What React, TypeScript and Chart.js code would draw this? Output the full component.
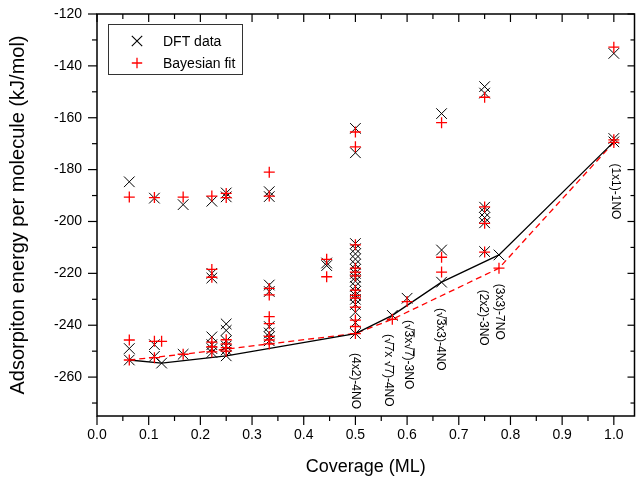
import React, { useEffect, useRef } from "react";
import { Chart, registerables } from "chart.js";

Chart.register(...registerables);

// ---------- data ----------
const coverages = [0.0625, 0.1111, 0.125, 0.1667, 0.2222, 0.25, 0.3333, 0.4444, 0.5, 0.5714, 0.6, 0.6667, 0.75, 0.7778, 1.0];

const dftEnergies: number[][] = [
  [-184.7, -249, -253.4],
  [-191, -247.5, -252],
  [-254.6],
  [-193.5, -251.2],
  [-192.2, -220, -221.8, -244.5, -247.5, -249, -250.5],
  [-189, -190.5, -239.5, -242, -246, -248, -249.5, -251.8],
  [-188.5, -190.4, -224.5, -227, -240.5, -243, -244.5, -246],
  [-216, -217],
  [-164.1, -173.5, -208.5, -210.5, -212.5, -214.5, -216.5, -218.5, -220, -221.5, -223, -225, -227, -228.5, -230, -232, -235, -239, -243.2],
  [-236.2],
  [-229.6],
  [-158.4, -211, -223.4],
  [-148, -150.5, -194.5, -196.5, -198.5, -200.5, -211.6],
  [-212.9],
  [-135.2, -168, -169.3],
];

const fitEnergies: number[][] = [
  [-190.6, -245.7, -253.4],
  [-190.8, -246.2, -252.5],
  [-246.2],
  [-190.6, -251.2],
  [-190.2, -218.5, -221.5, -246.5, -248.3, -250.3],
  [-189.2, -190.8, -245.6, -247.2, -248.6, -250],
  [-181, -190.2, -225.8, -228.3, -236.7, -239.4, -244.3, -245.7, -247.2],
  [-214.6, -221.3],
  [-165.5, -171.2, -209, -218, -219.5, -221, -226.5, -228.5, -229.5, -233, -238, -240.5, -243.2],
  [-237.7],
  [-230.9],
  [-161.9, -213.8, -219.5],
  [-152.1, -194.4, -200.7, -211.8],
  [-218],
  [-132.8, -168.5, -169.5],
];

const dftHullCoverage = [0.0625, 0.125, 0.25, 0.5, 0.5714, 0.6667, 0.7778, 1.0];
const dftHullEnergy = [-253.4, -254.6, -251.8, -243.2, -236.2, -223.4, -212.9, -169.3];

const fitHullCoverage = [0.0625, 0.1667, 0.5, 0.5714, 0.7778, 1.0];
const fitHullEnergy = [-253.4, -251.2, -243.2, -237.7, -218, -169.5];

const xTickValues = [0, 0.1, 0.2, 0.3, 0.4, 0.5, 0.6, 0.7, 0.8, 0.9, 1.0];
const xMinorTickValues = [0.05, 0.15, 0.25, 0.35, 0.45, 0.55, 0.65, 0.75, 0.85, 0.95];
const yTickValues = [-260, -240, -220, -200, -180, -160, -140, -120];
const yMinorTickValues = [-270, -250, -230, -210, -190, -170, -150, -130];

const phaseLabels = ["(4x2)-4NO", "(√7x √7)-4NO", "(√3x√7)-3NO", "(√3x3)-4NO", "(2x2)-3NO", "(3x3)-7NO", "(1x1)-1NO"];
const phaseLabelCoverage = [0.5, 0.563, 0.603, 0.665, 0.747, 0.778, 1.003];
const phaseLabelTop = [-250.7, -243.4, -238.0, -233.4, -226.3, -224.0, -177.6];

const legendLabels = ["DFT data", "Bayesian fit"];

const FONT = "'Liberation Sans', Arial, sans-serif";

// ---------- plugins ----------
const frameTicks = {
  id: "frameTicks",
  afterDraw(chart: any) {
    const { ctx, chartArea: a, scales } = chart;
    const x = scales.x;
    const y = scales.y;
    ctx.save();
    ctx.strokeStyle = "#000";
    ctx.lineWidth = 1.5;
    ctx.strokeRect(a.left, a.top, a.right - a.left, a.bottom - a.top);
    ctx.lineWidth = 1.2;
    const seg = (x1: number, y1: number, x2: number, y2: number) => {
      ctx.beginPath();
      ctx.moveTo(x1, y1);
      ctx.lineTo(x2, y2);
      ctx.stroke();
    };
    const xt = (v: number, outLen: number, inLen: number) => {
      const px = x.getPixelForValue(v);
      seg(px, a.bottom, px, a.bottom + outLen);
      seg(px, a.top, px, a.top + inLen);
    };
    const yt = (v: number, outLen: number, inLen: number) => {
      const py = y.getPixelForValue(v);
      seg(a.left, py, a.left - outLen, py);
      seg(a.right, py, a.right - inLen, py);
    };
    xTickValues.forEach((v) => xt(v, 9, 8));
    xMinorTickValues.forEach((v) => xt(v, 5, 5));
    yTickValues.forEach((v) => yt(v, 9, 7));
    yMinorTickValues.forEach((v) => yt(v, 5, 4));
    ctx.restore();
  },
};

function drawRotatedLabel(ctx: CanvasRenderingContext2D, text: string, px: number, py: number, size: number) {
  ctx.save();
  ctx.translate(px, py);
  ctx.rotate(Math.PI / 2);
  ctx.font = `${size}px ${FONT}`;
  ctx.fillStyle = "#000";
  ctx.strokeStyle = "#000";
  ctx.lineWidth = 0.9;
  ctx.textAlign = "left";
  ctx.textBaseline = "middle";
  let cx = 0;
  let barStart: number | null = null;
  for (const ch of text) {
    const w = ctx.measureText(ch).width;
    ctx.fillText(ch, cx, 0);
    if (ch === "√") {
      barStart = cx + w * 0.75;
    } else if (barStart !== null) {
      ctx.beginPath();
      ctx.moveTo(barStart, -size * 0.46);
      ctx.lineTo(cx + w, -size * 0.46);
      ctx.stroke();
      barStart = null;
    }
    cx += w;
  }
  ctx.restore();
}

const phaseLabelPlugin = {
  id: "phaseLabels",
  afterDatasetsDraw(chart: any) {
    const { ctx, scales } = chart;
    phaseLabels.forEach((t, i) => {
      const px = scales.x.getPixelForValue(phaseLabelCoverage[i]);
      const py = scales.y.getPixelForValue(phaseLabelTop[i]);
      drawRotatedLabel(ctx, t, px, py, 12);
    });
  },
};

const boxLegend = {
  id: "boxLegend",
  afterDraw(chart: any) {
    const { ctx, chartArea: a } = chart;
    const left = a.left + 11;
    const top = a.top + 10;
    ctx.save();
    ctx.fillStyle = "#fff";
    ctx.fillRect(left, top, 134, 50);
    ctx.strokeStyle = "#333";
    ctx.lineWidth = 1;
    ctx.strokeRect(left + 0.5, top + 0.5, 134, 50);
    const rows = [top + 17, top + 39];
    const mx = left + 29;
    ctx.strokeStyle = "#000";
    ctx.lineWidth = 1.1;
    const r = 5.2;
    ctx.beginPath();
    ctx.moveTo(mx - r, rows[0] - r);
    ctx.lineTo(mx + r, rows[0] + r);
    ctx.moveTo(mx + r, rows[0] - r);
    ctx.lineTo(mx - r, rows[0] + r);
    ctx.stroke();
    ctx.strokeStyle = "#ff0000";
    ctx.lineWidth = 1.3;
    ctx.beginPath();
    ctx.moveTo(mx - r, rows[1]);
    ctx.lineTo(mx + r, rows[1]);
    ctx.moveTo(mx, rows[1] - r);
    ctx.lineTo(mx, rows[1] + r);
    ctx.stroke();
    ctx.fillStyle = "#000";
    ctx.font = `14px ${FONT}`;
    ctx.textAlign = "left";
    ctx.textBaseline = "middle";
    legendLabels.forEach((t, i) => ctx.fillText(t, left + 55, rows[i] + 1));
    ctx.restore();
  },
};

// ---------- component ----------
export default function App() {
  const canvasRef = useRef<HTMLCanvasElement | null>(null);

  useEffect(() => {
    document.body.style.margin = "0";
    const canvas = canvasRef.current;
    if (!canvas) return;

    const dftPoints = coverages.flatMap((c, i) => dftEnergies[i].map((e) => ({ x: c, y: e })));
    const fitPoints = coverages.flatMap((c, i) => fitEnergies[i].map((e) => ({ x: c, y: e })));
    const dftHull = dftHullCoverage.map((c, i) => ({ x: c, y: dftHullEnergy[i] }));
    const fitHull = fitHullCoverage.map((c, i) => ({ x: c, y: fitHullEnergy[i] }));

    const chart = new Chart(canvas, {
      type: "scatter",
      data: {
        datasets: [
          {
            label: legendLabels[1],
            data: fitPoints,
            pointStyle: "cross",
            pointRadius: 5.5,
            borderColor: "#ff0000",
            backgroundColor: "#ff0000",
            borderWidth: 1.3,
            showLine: false,
            order: 0,
          } as any,
          {
            label: legendLabels[0],
            data: dftPoints,
            pointStyle: "crossRot",
            pointRadius: 7.5,
            borderColor: "#000",
            backgroundColor: "#000",
            borderWidth: 1,
            showLine: false,
            order: 1,
          } as any,
          {
            label: "DFT hull",
            data: dftHull,
            showLine: true,
            borderColor: "#000",
            borderWidth: 1.3,
            pointRadius: 0,
            fill: false,
            order: 2,
          } as any,
          {
            label: "Fit hull",
            data: fitHull,
            showLine: true,
            borderColor: "#ff0000",
            borderWidth: 1.3,
            borderDash: [6, 4],
            pointRadius: 0,
            fill: false,
            order: 3,
          } as any,
        ],
      },
      options: {
        animation: false,
        responsive: false,
        devicePixelRatio: 1,
        layout: { padding: { top: 14, right: 2, left: 0, bottom: 0 } },
        plugins: {
          legend: { display: false },
          tooltip: { enabled: false },
        },
        scales: {
          x: {
            type: "linear",
            min: 0,
            max: 1.04,
            afterBuildTicks: (s: any) => {
              s.ticks = xTickValues.map((v) => ({ value: v }));
            },
            afterFit: (s: any) => {
              s.height = 67;
              s.paddingLeft = 0;
              s.paddingRight = 0;
            },
            grid: { display: false, drawTicks: false },
            border: { display: false },
            ticks: {
              autoSkip: false,
              maxRotation: 0,
              padding: 11,
              color: "#000",
              font: { size: 14, family: FONT },
              callback: (v: any) => Number(v).toFixed(1),
            },
            title: {
              display: true,
              text: "Coverage (ML)",
              color: "#000",
              font: { size: 18, family: FONT },
              padding: { top: 0, bottom: 5 },
            },
          },
          y: {
            type: "linear",
            min: -275,
            max: -120,
            afterBuildTicks: (s: any) => {
              s.ticks = yTickValues.map((v) => ({ value: v }));
            },
            afterFit: (s: any) => {
              s.width = 97;
              s.paddingTop = 0;
              s.paddingBottom = 0;
            },
            grid: { display: false, drawTicks: false },
            border: { display: false },
            ticks: {
              autoSkip: false,
              padding: 15,
              color: "#000",
              font: { size: 14, family: FONT },
              callback: (v: any) => String(v),
            },
            title: {
              display: true,
              text: "Adsorpiton energy per molecule (kJ/mol)",
              color: "#000",
              font: { size: 20, family: FONT },
              padding: { top: 6.5, bottom: 0 },
            },
          },
        },
      } as any,
      plugins: [frameTicks, phaseLabelPlugin, boxLegend],
    });

    return () => chart.destroy();
  }, []);

  return (
    <div style={{ width: 643, height: 483, background: "#fff" }}>
      <canvas ref={canvasRef} width={643} height={483} style={{ display: "block" }} />
    </div>
  );
}
